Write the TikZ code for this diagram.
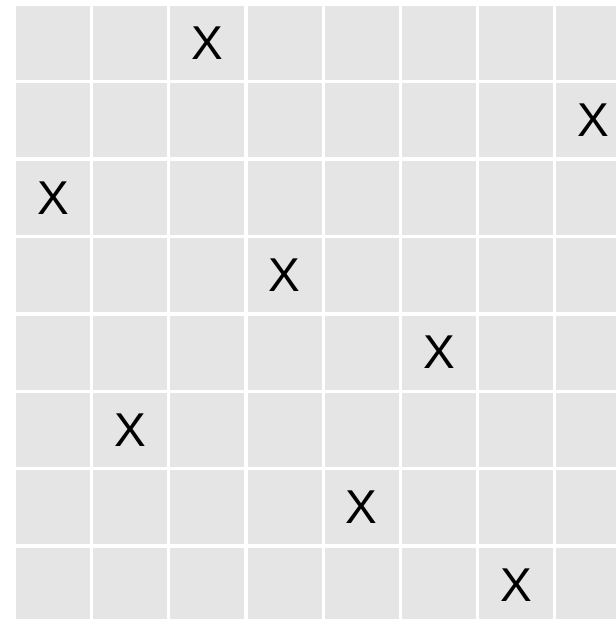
\documentclass[tikz,border=0pt]{standalone}
\usepackage{fontspec}
\setmainfont{Liberation Sans}
\definecolor{cellgray}{HTML}{E5E5E5}

\begin{document}
\begin{tikzpicture}[x=1pt,y=-1pt,
  cell/.style={fill=cellgray,draw=none,minimum width=74pt,minimum height=74pt,inner sep=0pt,outer sep=0pt},
  xmark/.style={font=\fontsize{47.5}{50}\selectfont,inner sep=0pt}]
\useasboundingbox (0,0) rectangle (616,619);
\clip (0,0) rectangle (616,619);

% board
\foreach \i in {0,...,7}
  \foreach \j in {0,...,7}
    \node[cell] (c\i\j) at ({53+77.17*\i},{43+77.4*\j}) {};

% marks, one per row
\foreach \i/\j in {2/0,7/1,0/2,3/3,5/4,1/5,4/6,6/7}
  \node[xmark] (q\j) at (c\i\j) {X};
\end{tikzpicture}
\end{document}
